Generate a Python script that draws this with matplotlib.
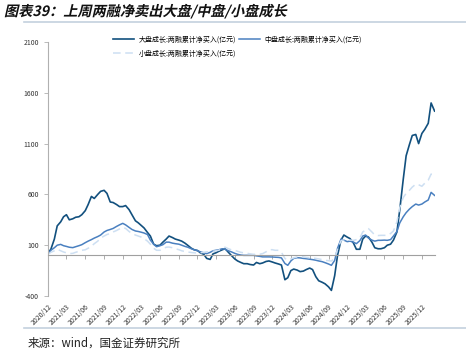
import numpy as np
import pandas as pd
import matplotlib
matplotlib.use('Agg')
import matplotlib.pyplot as plt
import matplotlib.dates as mdates
from matplotlib.textpath import TextPath
from matplotlib.patches import PathPatch
from matplotlib.font_manager import FontProperties
from matplotlib.transforms import Affine2D, IdentityTransform

plt.rcParams['font.family'] = ['Noto Sans CJK SC', 'DejaVu Sans']
plt.rcParams['axes.unicode_minus'] = False

title = '图表39：上周两融净卖出大盘/中盘/小盘成长'
source = '来源：wind，国金证券研究所'
labels = ['大盘成长:两融累计净买入(亿元)', '中盘成长:两融累计净买入(亿元)', '小盘成长:两融累计净买入(亿元)']

# semi-monthly readings, 2020-12-01 .. 2026-02-01
dates = pd.date_range('2020-12-01', periods=125, freq='SMS')

large = [25, 60, 160, 290, 330, 380, 400, 350, 360, 375,
         380, 400, 440, 500, 580, 560, 600, 630, 640, 610,
         525, 520, 500, 480, 480, 490, 450, 400, 340, 320,
         295, 270, 225, 190, 110, 95, 100, 130, 160, 190,
         175, 160, 150, 140, 120, 98, 70, 55, 48, 25,
         10, -30, -40, 15, 25, 40, 55, 65, 30, 0,
         -35, -55, -70, -82, -82, -90, -95, -70, -82, -75,
         -60, -55, -65, -75, -85, -95, -240, -220, -150, -135,
         -145, -160, -155, -140, -125, -140, -210, -250, -265, -280,
         -310, -345, -200, 0, 150, 200, 180, 165, 120, 60,
         60, 160, 190, 180, 130, 75, 65, 65, 75, 100,
         110, 150, 230, 450, 750, 980, 1090, 1180, 1190, 1100,
         1200, 1240, 1300, 1500, 1420]

mid = [15, 50, 75, 100, 108, 95, 88, 80, 76, 85,
       95, 105, 125, 140, 155, 170, 185, 200, 230, 245,
       255, 265, 285, 300, 315, 300, 275, 255, 240, 235,
       228, 220, 205, 150, 110, 85, 95, 105, 130, 130,
       120, 115, 110, 100, 88, 80, 65, 55, 45, 35,
       25, 17, 30, 45, 50, 55, 65, 60, 45, 35,
       20, 10, 3, 0, 0, 0, 0, -5, -10, -15,
       -15, -15, -16, -18, -20, -25, -80, -98, -55, -30,
       -23, -25, -30, -33, -38, -42, -48, -55, -62, -72,
       -85, -98, -50, 70, 160, 150, 135, 140, 130, 115,
       145, 190, 200, 170, 150, 140, 148, 148, 150, 148,
       155, 190, 235, 320, 380, 420, 455, 480, 505, 495,
       505, 525, 545, 620, 590]

small = [10, 30, 45, 60, 45, 33, 25, 17, 20, 30,
         40, 50, 55, 70, 90, 115, 140, 170, 190, 205,
         215, 230, 245, 260, 275, 265, 235, 215, 200, 190,
         180, 165, 140, 110, 70, 50, 50, 65, 80, 82,
         75, 65, 56, 45, 38, 33, 28, 25, 23, 25,
         30, 35, 33, 40, 45, 50, 70, 80, 65, 55,
         50, 40, 30, 25, 20, 15, 10, 10, 12, 17,
         35, 55, 56, 50, 50, 30, -30, -49, -35, -25,
         -15, -10, -15, -20, -23, -25, -30, -35, -42, -49,
         -52, -56, -30, 60, 145, 152, 150, 150, 148, 155,
         170, 230, 250, 263, 230, 200, 195, 197, 197, 197,
         215, 240, 330, 470, 570, 610, 640, 672, 700, 695,
         680, 710, 740, 800, 790]

tick_dates = pd.date_range('2020-12-01', '2025-12-01', freq='3MS')
yticks = [-400, 100, 600, 1100, 1600, 2100]

fig = plt.figure(figsize=(4.66, 3.55), dpi=100)
ax = fig.add_axes([48 / 466, 59 / 355, 387 / 466, 254 / 355])

l1, = ax.plot(dates, large, color='#12507e', lw=1.2, label=labels[0])
l2, = ax.plot(dates, mid, color='#4a80c0', lw=1.1, label=labels[1])
l3, = ax.plot(dates, small, color='#cddff2', lw=1.1, dashes=(5, 3), label=labels[2])

ax.set_ylim(-400, 2100)
ax.set_xlim(pd.Timestamp('2020-12-01'), pd.Timestamp('2026-02-03'))
ax.set_yticks(yticks)
ax.set_xticks(tick_dates)
ax.xaxis.set_major_formatter(mdates.DateFormatter('%Y/%m'))

for s in ['top', 'right']:
    ax.spines[s].set_visible(False)
ax.spines['left'].set_color('#b0b0b0')
ax.spines['bottom'].set_color('#a0a0a0')
ax.spines['bottom'].set_position(('data', 0))
ax.spines['bottom'].set_linewidth(0.8)

ax.tick_params(axis='y', labelsize=5, colors='#b0b0b0', labelcolor='#333333', length=3, width=0.6)
ax.tick_params(axis='x', labelsize=5, colors='#a0a0a0', labelcolor='#333333', length=3, width=0.6, pad=31)
for lab in ax.get_xticklabels():
    lab.set_rotation(45)
    lab.set_ha('right')
    lab.set_va('top')
    lab.set_rotation_mode('anchor')

# column-wise fill: large/small in column 1, mid in column 2
ax.legend([l1, l3, l2], [labels[0], labels[2], labels[1]], ncol=2, frameon=False,
          fontsize=5.0, loc='upper left', bbox_to_anchor=(0.16, 1.035),
          handlelength=3.1, handletextpad=0.6, columnspacing=0.4,
          labelspacing=0.75, borderaxespad=0)

# italic bold title via skewed text path
tp = TextPath((0, 0), title, size=10.2, prop=FontProperties(family='Noto Sans CJK SC', weight='bold'))
tr = Affine2D().skew_deg(13, 0).scale(100 / 72).translate(4, 355 - 16)
fig.patches.append(PathPatch(tp, transform=tr + IdentityTransform(), color='#111111', lw=0))

fig.add_artist(plt.Line2D([24 / 466, 1], [1 - 22 / 355, 1 - 22 / 355], color='#c3d1de', lw=1.2))
fig.add_artist(plt.Line2D([24 / 466, 1], [1 - 327.5 / 355, 1 - 327.5 / 355], color='#c3d1de', lw=1.2))
fig.text(28 / 466, 1 - 343 / 355, source, fontsize=8.3, va='center', ha='left', color='#222222')

fig.savefig('out.png', dpi=100)
